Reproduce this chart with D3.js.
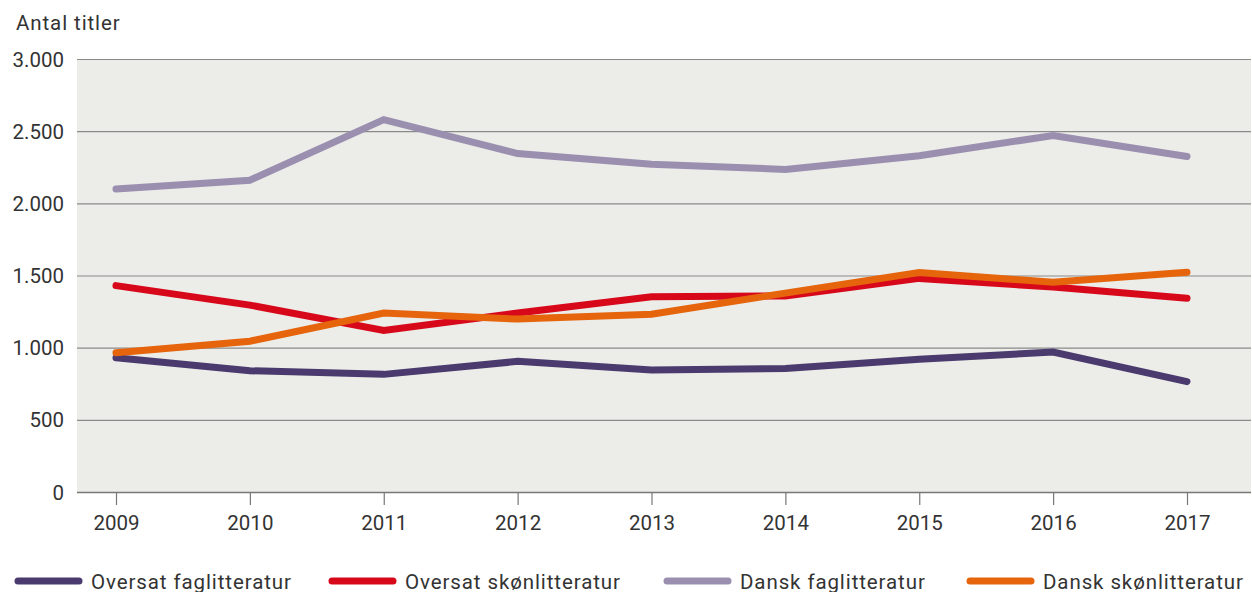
<!DOCTYPE html>
<html><head><meta charset="utf-8">
<script src="https://cdn.jsdelivr.net/npm/d3@7"></script>
<style>
html,body{margin:0;padding:0;background:#fff;}
svg text{font-family:Roboto,"DejaVu Sans",sans-serif;fill:#333;font-weight:400;}
</style></head>
<body><svg id="c" width="1252" height="592"></svg>
<script>
const years = [2009,2010,2011,2012,2013,2014,2015,2016,2017];
const oversatFag = [930,840,815,905,845,855,920,970,765];
const oversatSkon = [1430,1295,1120,1240,1353,1358,1480,1420,1342];
const danskFag = [2100,2160,2580,2345,2270,2235,2330,2470,2325];
const danskSkon = [965,1045,1240,1198,1231,1378,1520,1453,1522];
const seriesNames = ["Oversat faglitteratur","Oversat skønlitteratur","Dansk faglitteratur","Dansk skønlitteratur"];
const seriesColors = ["#4a3a6e","#d8081b","#9b8fb0","#e5640c"];
const yTicks = [0,500,1000,1500,2000,2500,3000];
const yTitle = "Antal titler";

const svg = d3.select("#c");
const x = d3.scaleLinear().domain([2009,2017]).range([116,1187]);
const y = d3.scaleLinear().domain([0,3000]).range([492,59]);
const left = 77, right = 1251;

svg.append("rect").attr("x",left).attr("y",y(3000)).attr("width",right-left).attr("height",y(0)-y(3000)).attr("fill","#ecece8");

// gridlines
svg.append("g").selectAll("line").data(yTicks).join("line")
  .attr("x1",left).attr("x2",right)
  .attr("y1",d=>y(d)+0.5).attr("y2",d=>y(d)+0.5)
  .attr("stroke",d=>d===0?"#777":"#8a8a8a").attr("stroke-width",d=>d===0?1.5:1.2);

// y labels
const fmt = d => d3.format(",")(d).replace(/,/g,".");
svg.append("g").selectAll("text").data(yTicks).join("text")
  .attr("x",64).attr("y",d=>y(d)+7.5).attr("text-anchor","end")
  .attr("font-size",20.5).text(fmt);

svg.append("text").attr("x",16).attr("y",30).attr("font-size",20.5)
  .attr("letter-spacing",0.9).text(yTitle);

// x axis ticks
const xAxis = d3.axisBottom(x).tickValues(years).tickFormat(d3.format("d")).tickSize(13).tickPadding(8);
const gx = svg.append("g").attr("transform",`translate(0,${y(0)})`).call(xAxis);
gx.select(".domain").remove();
gx.selectAll(".tick line").attr("stroke","#777").attr("stroke-width",1.2);
gx.selectAll(".tick text").attr("font-size",20.5).attr("fill","#333").attr("dy","0.82em")
  .style("font-family","Roboto, sans-serif").style("font-weight",400);

// lines
const data = [oversatFag, oversatSkon, danskFag, danskSkon];
const line = d3.line().x((d,i)=>x(years[i])).y(d=>y(d));
const order = [2,0,1,3];
svg.append("g").selectAll("path").data(order).join("path")
  .attr("d",k=>line(data[k])).attr("fill","none")
  .attr("stroke",k=>seriesColors[k]).attr("stroke-width",7)
  .attr("stroke-linecap","round").attr("stroke-linejoin","miter");

// legend
const legX = [15,329,664,967];
const lg = svg.append("g").selectAll("g").data(seriesNames).join("g")
  .attr("transform",(d,i)=>`translate(${legX[i]},581)`);
lg.append("line").attr("x1",3).attr("x2",64).attr("y1",0).attr("y2",0)
  .attr("stroke",(d,i)=>seriesColors[i]).attr("stroke-width",7).attr("stroke-linecap","round");
lg.append("text").attr("x",76).attr("y",7.5).attr("font-size",20.5)
  .attr("letter-spacing",0.9).text(d=>d);
</script></body></html>
